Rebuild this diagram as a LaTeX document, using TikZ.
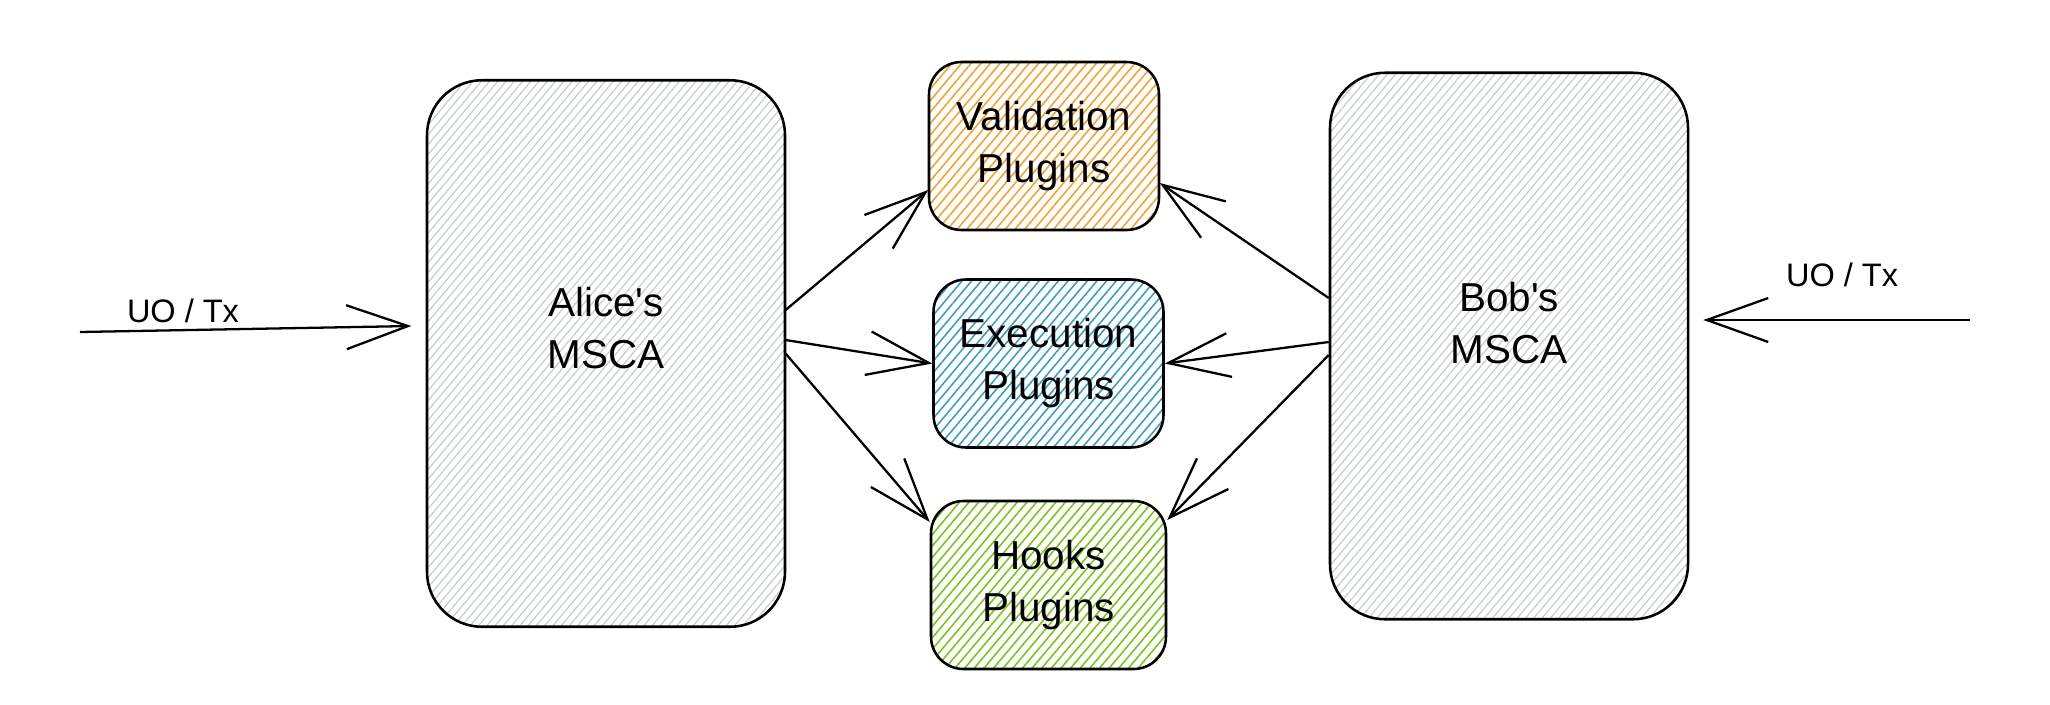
\documentclass[tikz,border=0pt]{standalone}
\usepackage{fontspec}
\setmainfont{Liberation Sans}[Ligatures=TeXOff]
\usetikzlibrary{arrows.meta,patterns.meta}
\definecolor{hatchgray}{HTML}{C4CBD2}
\definecolor{hatchorange}{HTML}{F0A42E}
\definecolor{hatchblue}{HTML}{3E9CBC}
\definecolor{hatchgreen}{HTML}{7CC21C}
\tikzstyle{block} = [rectangle, rounded corners=0.65cm, minimum width=4.6cm, minimum height=3.36cm, text centered, align=center, draw=black, line width=1.45pt, font=\fontsize{23}{29.6}\selectfont]
\tikzstyle{account} = [block, rounded corners=1.1cm, minimum width=7.16cm, minimum height=10.93cm]
\tikzstyle{arrow} = [line width=1.3pt,-{Straight Barb[length=35pt,width=25pt]}]
\tikzset{hatch/.style={pattern={Lines[angle=50,distance=4.2pt,line width=0.9pt]},pattern color=#1},
         softhatch/.style={pattern={Lines[angle=50,distance=3.6pt,line width=0.7pt]},pattern color=#1},
         boxtext/.style={align=center,font=\fontsize{23}{29.6}\selectfont},
         flowlabel/.style={font=\fontsize{18.5}{22}\selectfont}}

\begin{document}
\begin{tikzpicture}
    \useasboundingbox (0,0) rectangle (41,-14.08);

    \node [account, softhatch=hatchgray, label={[boxtext, yshift=0.5cm]center:Alice's\\MSCA}] (alice) at (12.12,-7.07) {};

    \node [block, hatch=hatchorange, right of = alice, xshift = 7.76cm, yshift = 4.15cm] (validation) {Validation\\Plugins};
    \node [block, hatch=hatchblue, right of = alice, xshift = 7.85cm, yshift = -0.20cm] (execution) {Execution\\Plugins};
    \node [block, hatch=hatchgreen, minimum width=4.7cm, below of = execution, yshift = -3.43cm] (hooks) {Hooks\\Plugins};

    \node [account, softhatch=hatchgray, right of = execution, xshift = 8.21cm, yshift = 0.35cm, label={[boxtext, yshift=0.45cm]center:Bob's\\MSCA}] (bob) {};

    % Alice to plugins
    \draw [arrow] ([yshift=0.87cm]alice.east) -- ([yshift=-0.88cm]validation.west);
    \draw [arrow] ([yshift=0.27cm]alice.east) -- (execution.west);
    \draw [arrow] (alice.east) -- ([yshift=1.26cm]hooks.west);

    % Bob to plugins
    \draw [arrow] ([yshift=0.96cm]bob.west) -- ([yshift=-0.74cm]validation.east);
    \draw [arrow] ([yshift=0.08cm]bob.west) -- (execution.east);
    \draw [arrow] ([yshift=-0.18cm]bob.west) -- ([yshift=1.3cm]hooks.east);

    \coordinate (inL) at (1.6,-6.64);
    \coordinate (inR) at (39.4,-6.4);
    \draw [arrow] (inL) -- ([xshift=-0.3cm, yshift=0.55cm]alice.west);
    \draw [arrow] (inR) -- ([xshift=0.28cm, yshift=0.52cm]bob.east);
    \node [flowlabel] (labelL) at (3.66,-6.22) {UO / Tx};
    \node [flowlabel] (labelR) at (36.84,-5.5) {UO / Tx};
\end{tikzpicture}
\end{document}
